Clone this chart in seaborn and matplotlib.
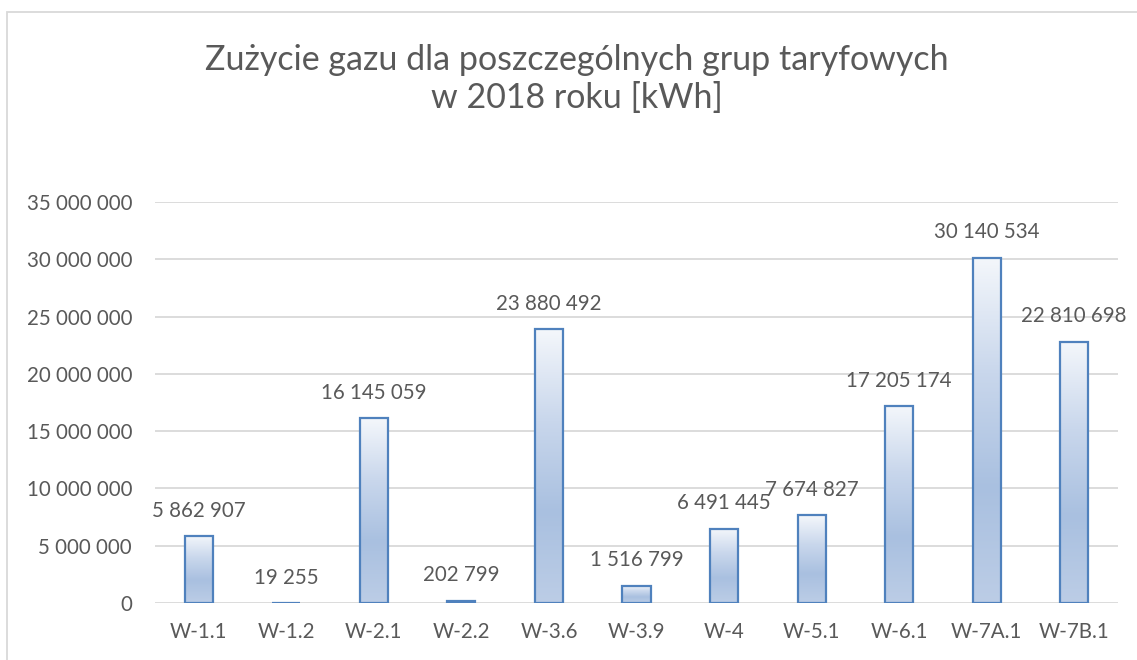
import matplotlib.pyplot as plt
import matplotlib.patches as mpatches
import seaborn as sns
import numpy as np
import pandas as pd

groups = ["W-1.1", "W-1.2", "W-2.1", "W-2.2", "W-3.6", "W-3.9",
          "W-4", "W-5.1", "W-6.1", "W-7A.1", "W-7B.1"]
usage = [5862907, 19255, 16145059, 202799, 23880492, 1516799,
         6491445, 7674827, 17205174, 30140534, 22810698]
yticks = [0, 5000000, 10000000, 15000000, 20000000, 25000000, 30000000, 35000000]

df = pd.DataFrame({"group": groups, "usage": usage})

sns.set_style("white")
plt.rcParams["font.family"] = ["Lato", "DejaVu Sans"]
text_col = "#595959"

fig = plt.figure(figsize=(11.37, 6.6), dpi=100)
ax = fig.add_axes([155 / 1137, 57 / 660, (1118 - 155) / 1137, (603 - 202) / 660])

sns.barplot(data=df, x="group", y="usage", ax=ax, width=0.32,
            facecolor="none", edgecolor="#4F81BD", linewidth=1.6, zorder=3)

# gradient fill, light at the top, blue towards the bottom
grad = np.linspace(0, 1, 256).reshape(-1, 1)
cmap = sns.blend_palette(["#F4F7FB", "#C9D7EC", "#A9C0E0", "#BCCDE6"], as_cmap=True)
for p in ax.patches:
    x0, y0 = p.get_x(), p.get_y()
    w, h = p.get_width(), p.get_height()
    im = ax.imshow(grad, cmap=cmap, aspect="auto", origin="upper",
                   extent=(x0, x0 + w, y0, y0 + h), zorder=2)
    im.set_clip_path(p)

ax.set_xlim(-0.5, len(groups) - 0.5)
ax.set_ylim(0, 35000000)
ax.set_yticks(yticks)
ax.set_yticklabels([f"{v:,}".replace(",", " ") for v in yticks])
ax.yaxis.grid(True, color="#D9D9D9", linewidth=1.3, zorder=0)
ax.set_axisbelow(True)
for s in ax.spines.values():
    s.set_visible(False)
ax.tick_params(axis="both", length=0, labelsize=14.8, colors=text_col)
ax.tick_params(axis="y", pad=16.5)
ax.tick_params(axis="x", pad=14)
ax.set_xlabel("")
ax.set_ylabel("")

for i, v in enumerate(usage):
    ax.annotate(f"{v:,}".replace(",", " "), (i, v), xytext=(0, 11),
                textcoords="offset points", ha="center", va="bottom",
                fontsize=14.8, color=text_col)

fig.text(577 / 1137, 1 - 79 / 660, "Zużycie gazu dla poszczególnych grup taryfowych\nw 2018 roku [kWh]",
         ha="center", va="center", fontsize=24.5, color=text_col, linespacing=1.25)

# chart area border
fig.patches.append(mpatches.Rectangle((7 / 1137, -0.1), 1.2, 1 - 12 / 660 + 0.1,
                                      transform=fig.transFigure, fill=False,
                                      edgecolor="#D9D9D9", linewidth=1.3))

fig.savefig("out.png", dpi=100)
